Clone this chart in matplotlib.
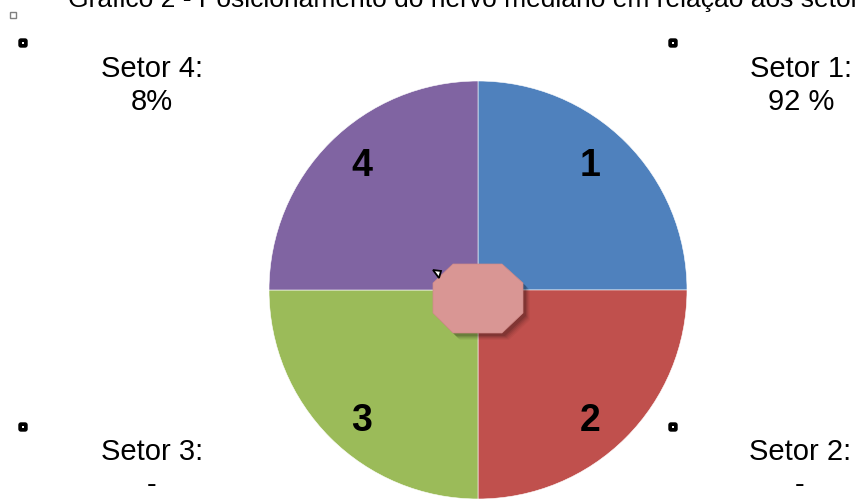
import matplotlib
matplotlib.use("Agg")
import matplotlib.pyplot as plt
from matplotlib.patches import Polygon, FancyBboxPatch, Rectangle

plt.rcParams['font.family'] = ['Liberation Sans', 'DejaVu Sans']

# Data
title = "Gráfico 2 - Posicionamento do nervo mediano em relação aos setores"
sectors = ["1", "2", "3", "4"]
sizes = [25, 25, 25, 25]
colors = ["#4F81BD", "#C0504D", "#9BBB59", "#8064A2"]
sector_names = ["Setor 1:", "Setor 2:", "Setor 3:", "Setor 4:"]
sector_values = ["92 %", "-", "-", "8%"]

W, H = 858, 500
fig = plt.figure(figsize=(W / 100, H / 100), dpi=100)
ax = fig.add_axes([0, 0, 1, 1])

def Y(yp):
    return H - yp

cx, cy, r = 478, Y(290), 209

wedges, texts = ax.pie(sizes, labels=sectors, colors=colors, startangle=90,
                       counterclock=False, center=(cx, cy), radius=r,
                       labeldistance=0.81, frame=True,
                       wedgeprops=dict(edgecolor="white", linewidth=0.4),
                       textprops=dict(fontsize=27, fontweight="bold", color="black",
                                      ha="center", va="center"))
ax.set_xlim(0, W)
ax.set_ylim(0, H)
ax.set_aspect("equal")
ax.axis("off")

# label placement inside each quadrant
label_pos = [(590, 166), (590, 421), (362, 421), (362, 166)]
for t, (lx, ly) in zip(texts, label_pos):
    t.set_position((lx, Y(ly)))

# Octagon with shadow
oct_px = [(453, 264), (502, 264), (523, 283), (523, 313), (502, 333), (453, 333),
          (433, 313), (433, 283)]
for k, a in [(7, 0.04), (6, 0.05), (5, 0.07), (4, 0.09), (3, 0.11)]:
    sh = Polygon([(x + k, Y(y + k)) for x, y in oct_px], closed=True,
                 facecolor="black", edgecolor="none", alpha=a, zorder=3)
    ax.add_patch(sh)
octo = Polygon([(x, Y(y)) for x, y in oct_px], closed=True,
               facecolor="#D99694", edgecolor="#D08A88", linewidth=0.5, zorder=4)
ax.add_patch(octo)

# small black triangle marker
tri = Polygon([(433, Y(270)), (441, Y(271)), (439, Y(278))], closed=True,
              facecolor="white", edgecolor="black", linewidth=1.3, zorder=5)
ax.add_patch(tri)

# handle markers
for hx, hy in [(23, 43), (673, 43), (23, 427), (673, 427)]:
    ax.add_patch(FancyBboxPatch((hx - 4, Y(hy) - 4), 8, 8,
                                boxstyle="round,pad=0,rounding_size=2",
                                facecolor="black", edgecolor="black", linewidth=1, zorder=6))
    ax.add_patch(Rectangle((hx - 0.7, Y(hy) - 0.7), 1.4, 1.4, facecolor="white",
                           edgecolor="none", zorder=7))
ax.add_patch(Rectangle((10, Y(18)), 6, 6, facecolor="white", edgecolor="#808080",
                       linewidth=1, zorder=6))

# Sector annotations
pos = {0: (801, 77, 110), 1: (800, 460, 493), 2: (152, 460, 493), 3: (152, 77, 110)}
for i in range(4):
    x, b1, b2 = pos[i]
    ax.text(x, Y(b1), sector_names[i], fontsize=21, ha="center", va="baseline")
    ax.text(x, Y(b2), sector_values[i], fontsize=21, ha="center", va="baseline")

# Title (clipped at the top edge, as in the reference)
ax.text(68, Y(7), title, fontsize=19, ha="left", va="baseline", clip_on=False)

fig.savefig("out.png", dpi=100)
